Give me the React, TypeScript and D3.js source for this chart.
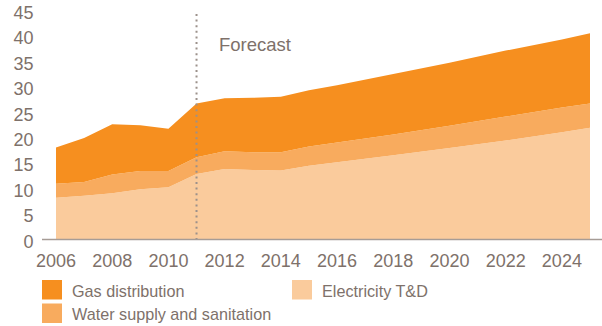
import React from "react";
import * as d3 from "d3";

const years = [2006, 2007, 2008, 2009, 2010, 2011, 2012, 2013, 2014, 2015, 2016, 2018, 2020, 2022, 2024, 2025];
const electricity = [8.2, 8.6, 9.1, 9.9, 10.3, 12.9, 13.9, 13.7, 13.6, 14.5, 15.2, 16.6, 18.0, 19.5, 21.1, 22.0];
const water = [2.8, 2.7, 3.7, 3.6, 3.2, 3.3, 3.5, 3.5, 3.6, 3.8, 3.9, 4.1, 4.4, 4.7, 4.9, 4.8];
const gas = [7.1, 8.7, 9.9, 9.0, 8.3, 10.6, 10.4, 10.7, 10.9, 11.1, 11.3, 11.9, 12.4, 13.0, 13.4, 13.8];
const yTicks = [0, 5, 10, 15, 20, 25, 30, 35, 40, 45];
const xTicks = [2006, 2008, 2010, 2012, 2014, 2016, 2018, 2020, 2022, 2024];
const forecastYear = 2011;

const seriesKeys = ["electricity", "water", "gas"];
const seriesNames: Record<string, string> = {
  gas: "Gas distribution",
  water: "Water supply and sanitation",
  electricity: "Electricity T&D",
};
const colors: Record<string, string> = {
  gas: "#F68F1F",
  water: "#F8AB5E",
  electricity: "#FACB9C",
};

const textColor = "#7E716A";
const font = "Liberation Sans, Arial, Helvetica, sans-serif";

export default function App() {
  const width = 602;
  const height = 326;
  const x = d3.scaleLinear().domain([2006, 2025]).range([56, 590]);
  const y = d3.scaleLinear().domain([0, 45]).range([239.5, 11]);

  const rows = years.map((yr, i) => ({
    year: yr,
    electricity: electricity[i],
    water: water[i],
    gas: gas[i],
  }));
  const stacked = d3.stack<any>().keys(seriesKeys)(rows);
  const area = d3
    .area<any>()
    .x((d) => x(d.data.year))
    .y0((d) => y(d[0]))
    .y1((d) => y(d[1]));

  const legend = [
    { key: "gas", x: 42, y: 280 },
    { key: "water", x: 42, y: 303.5 },
    { key: "electricity", x: 292, y: 280 },
  ];

  return (
    <svg
      width={width}
      height={height}
      style={{ position: "absolute", left: 0, top: 0 }}
      fontFamily={font}
    >
      <rect width={width} height={height} fill="#fff" />
      {stacked.map((s) => (
        <path key={s.key} d={area(s) || ""} fill={colors[s.key]} />
      ))}
      <line
        x1={x(forecastYear)}
        x2={x(forecastYear)}
        y1={14}
        y2={239}
        stroke="#9C918B"
        strokeWidth={2}
        strokeDasharray="2,3.6"
      />
      <text x={219} y={51} fontSize={18.5} fill={textColor}>
        Forecast
      </text>
      <line x1={42} x2={602} y1={239.5} y2={239.5} stroke="#A69C96" strokeWidth={1.5} />
      {yTicks.map((t) => (
        <text
          key={t}
          x={33.5}
          y={y(t) + 2}
          fontSize={18}
          fill={textColor}
          textAnchor="end"
          dominantBaseline="central"
        >
          {t}
        </text>
      ))}
      {xTicks.map((t) => (
        <text key={t} x={x(t)} y={267} fontSize={18} fill={textColor} textAnchor="middle">
          {t}
        </text>
      ))}
      {legend.map((l) => (
        <g key={l.key}>
          <rect x={l.x} y={l.y} width={20} height={19.5} fill={colors[l.key]} />
          <text
            x={l.x + 30}
            y={l.y + 10.5}
            fontSize={16.2}
            fill={textColor}
            dominantBaseline="central"
          >
            {seriesNames[l.key]}
          </text>
        </g>
      ))}
    </svg>
  );
}
